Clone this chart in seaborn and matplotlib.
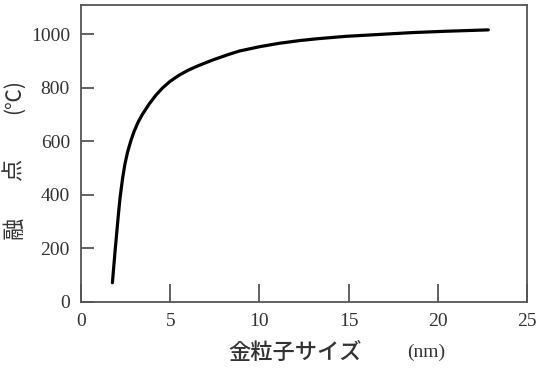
import matplotlib
matplotlib.use("Agg")
import matplotlib.pyplot as plt
import seaborn as sns
import pandas as pd

size_nm = [1.76, 1.91, 2.10, 2.19, 2.33, 2.47, 2.61, 2.80, 2.98, 3.20, 3.43,
           3.82, 4.20, 4.57, 5.00, 5.51, 6.00, 6.46, 7.36, 8.31, 8.88, 10.0,
           11.12, 12.25, 13.26, 14.87, 16.74, 18.6, 20.5, 22.83]
melt_c = [72, 190, 330, 390, 462, 518, 560, 604, 638, 672, 700,
          740, 773, 800, 825, 848, 866, 880, 904, 926, 938, 954,
          967, 977, 984, 993, 1000, 1007, 1012, 1017]
x_ticks = [0, 5, 10, 15, 20, 25]
y_ticks = [0, 200, 400, 600, 800, 1000]

sns.set_theme(style="ticks")
plt.rcParams['font.family'] = ['Liberation Serif', 'DejaVu Serif']

df = pd.DataFrame({"size": size_nm, "melt": melt_c})

fig = plt.figure(figsize=(5.38, 3.68), dpi=100)
ax = fig.add_axes([81/538, 66/368, 446/538, 297/368])
sns.lineplot(data=df, x="size", y="melt", ax=ax, color="black", linewidth=2.3,
             estimator=None, sort=False)
ax.lines[0].set_solid_joinstyle("round")
ax.lines[0].set_solid_capstyle("round")

ax.set_xlim(0, 25)
ax.set_ylim(0, 1110)
ax.set_xticks(x_ticks)
ax.set_yticks(y_ticks)
ax.set_xlabel("")
ax.set_ylabel("")
edge = "#555555"
for s in ax.spines.values():
    s.set_color(edge)
    s.set_linewidth(1.3)
ax.tick_params(axis="x", direction="in", length=13, width=1.3, color=edge,
               labelsize=14, labelcolor="#333333", pad=8)
ax.tick_params(axis="y", direction="in", length=9.5, width=1.3, color=edge,
               labelsize=14, labelcolor="#333333", pad=8)

cjk = ['Noto Sans CJK JP', 'DejaVu Sans']
fig.text(14/538, 1 - 228/368, "融", rotation=90, ha="center", va="center",
         fontsize=16, family=cjk, color="#333333")
fig.text(14/538, 1 - 170/368, "点", rotation=90, ha="center", va="center",
         fontsize=16, family=cjk, color="#333333")
fig.text(14/538, 1 - 97/368, "(℃)", rotation=90, ha="center", va="center",
         fontsize=15, family=cjk, color="#333333")
fig.text(295/538, 1 - 352/368, "金粒子サイズ", ha="center", va="center",
         fontsize=16, family=cjk, color="#333333", fontweight="medium")
fig.text(426/538, 1 - 352/368, "(nm)", ha="center", va="center",
         fontsize=14, family=['Liberation Serif'], color="#333333")

fig.savefig("out.png", dpi=100)
